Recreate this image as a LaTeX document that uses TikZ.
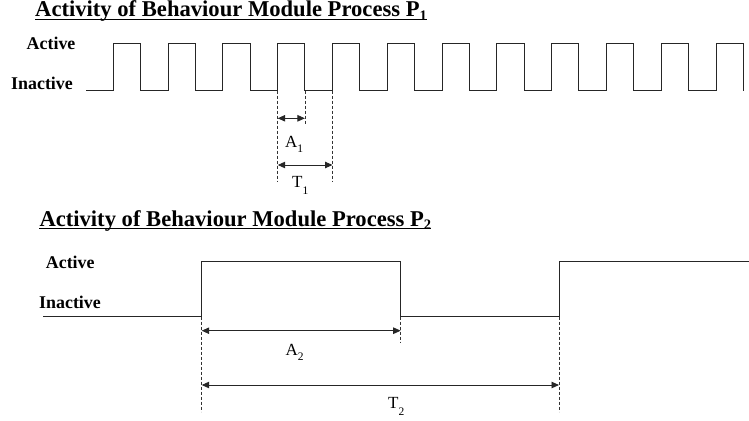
\documentclass[tikz,border=0pt]{standalone}
\usepackage{fontspec}
\setmainfont{Liberation Serif}
\usetikzlibrary{arrows.meta}
\newcommand\lowsub[3]{\raisebox{-#2}{\fontsize{#1}{#1}\selectfont #3}}
\tikzset{
  wave/.style={draw=black!85, line width=1pt, line join=miter},
  guide/.style={draw=black!80, line width=0.55pt, dash pattern=on 3pt off 2pt},
  dim/.style={draw=black!85, line width=0.9pt},
  twohead/.style={dim, {Triangle[length=7.5pt,width=6.5pt]}-{Triangle[length=7.5pt,width=6.5pt]}},
  titletxt/.style={anchor=base west, inner sep=0pt, font=\fontsize{22.6}{24}\selectfont\bfseries},
  lvl/.style={anchor=base west, inner sep=0pt, font=\fontsize{17.9}{19}\selectfont\bfseries},
  dimlbl/.style={anchor=base west, inner sep=0pt, font=\fontsize{17}{18}\selectfont},
}
\begin{document}
\begin{tikzpicture}[x=1pt,y=-1pt]
\useasboundingbox (0,0) rectangle (749,420);

% ---------- Process P1 ----------
\node[titletxt] (t1) at (35,17) {Activity of Behaviour Module Process P\lowsub{14.5}{3.5pt}{1}};
\draw[line width=1.2pt] ([yshift=-2.6pt]t1.base west) -- ([yshift=-2.6pt]t1.base east);

\node[lvl] (act1) at (26.5,49.5) {Active};
\node[lvl] (ina1) at (11,89.5) {Inactive};

\draw[wave] (86,90.7)
  \foreach \k in {0,...,11} {
    -- ({113.3+54.8*\k},90.7) -- ({113.3+54.8*\k},43.3)
    -- ({140.5+54.8*\k},43.3) -- ({140.5+54.8*\k},90.7)
  };

\coordinate (r1) at (277.7,90.7);
\coordinate (f1) at (304.9,90.7);
\coordinate (n1) at (332.5,90.7);
\coordinate (r1b) at (277.7,181.7);
\coordinate (f1b) at (304.9,125);
\coordinate (n1b) at (332.5,181.7);
\draw[guide] (r1) -- (r1b);
\draw[guide] (f1) -- (f1b);
\draw[guide] (n1) -- (n1b);

\coordinate (a1l) at (277.7,118.3);
\coordinate (a1r) at (304.9,118.3);
\coordinate (t1l) at (277.7,165);
\coordinate (t1r) at (332.5,165);
\draw[twohead] (a1l) -- (a1r);
\draw[twohead] (t1l) -- (t1r);

\node[dimlbl] (la1) at (285,147.5) {A\lowsub{11.5}{5pt}{1}};
\node[dimlbl] (lt1) at (292,187.3) {T\lowsub{11.5}{7pt}{1}};

% ---------- Process P2 ----------
\node[titletxt] (t2) at (39.3,226) {Activity of Behaviour Module Process P\lowsub{14.5}{3.5pt}{2}};
\draw[line width=1.2pt] ([yshift=-2.6pt]t2.base west) -- ([yshift=-2.6pt]t2.base east);

\node[lvl] (act2) at (45.7,268) {Active};
\node[lvl] (ina2) at (39,308) {Inactive};

\draw[wave] (43.3,316.7) -- (201.7,316.7) -- (201.7,261.7) -- (400.7,261.7)
  -- (400.7,316.7) -- (559,316.7) -- (559,261.7) -- (748.5,261.7);

\coordinate (r2) at (201.7,316.7);
\coordinate (f2) at (400.7,316.7);
\coordinate (n2) at (559,316.7);
\coordinate (r2b) at (201.7,411.7);
\coordinate (f2b) at (400.7,343.3);
\coordinate (n2b) at (559,411.7);
\draw[guide] (r2) -- (r2b);
\draw[guide] (f2) -- (f2b);
\draw[guide] (n2) -- (n2b);

\coordinate (a2l) at (201.7,330.7);
\coordinate (a2r) at (400.7,330.7);
\coordinate (t2l) at (201.7,385);
\coordinate (t2r) at (559,385);
\draw[twohead] (a2l) -- (a2r);
\draw[twohead] (t2l) -- (t2r);

\node[dimlbl] (la2) at (285.5,355) {A\lowsub{11.5}{5pt}{2}};
\node[dimlbl] (lt2) at (388,408) {T\lowsub{11.5}{7pt}{2}};
\end{tikzpicture}
\end{document}
